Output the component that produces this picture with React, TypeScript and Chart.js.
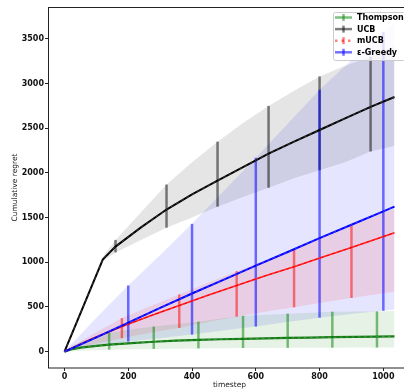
import React, { useEffect, useRef } from 'react';
import { Chart, registerables } from 'chart.js';

Chart.register(...registerables);

// ---- data ----
const thompsonX = [0, 20, 50, 100, 140, 210, 280, 350, 420, 490, 560, 630, 700, 770, 840, 910, 980, 1035];
const thompsonMean = [0, 25, 45, 65, 78, 95, 110, 122, 132, 138, 143, 148, 153, 157, 161, 164, 167, 170];
const thompsonLo = [0, 5, 10, 16, 22, 26, 30, 33, 35, 38, 40, 41, 42, 43, 44, 45, 45, 45];
const thompsonHi = [0, 60, 110, 170, 212, 250, 280, 310, 335, 370, 400, 413, 425, 436, 447, 449, 450, 455];
const thompsonBarX = [140, 280, 420, 560, 700, 840, 980];

const ucbX = [0, 120, 160, 240, 320, 400, 480, 560, 640, 720, 800, 880, 960, 1035];
const ucbMean = [0, 1030, 1175, 1390, 1590, 1760, 1913, 2065, 2215, 2350, 2480, 2610, 2740, 2850];
const ucbLo = [0, 1015, 1110, 1250, 1387, 1500, 1622, 1730, 1834, 1940, 2030, 2120, 2240, 2300];
const ucbHi = [0, 1060, 1250, 1560, 1870, 2120, 2350, 2560, 2750, 2920, 3080, 3200, 3300, 3420];
const ucbBarX = [160, 320, 480, 640, 800, 960];

const mucbX = [0, 90, 180, 270, 360, 450, 540, 630, 720, 810, 900, 1035];
const mucbMean = [0, 150, 280, 400, 515, 630, 740, 850, 950, 1060, 1165, 1331];
const mucbLo = [0, 80, 150, 210, 265, 330, 390, 445, 495, 550, 600, 670];
const mucbHi = [0, 200, 375, 510, 640, 770, 900, 1020, 1140, 1275, 1410, 1600];
const mucbBarX = [180, 360, 540, 720, 900];

const epsX = [0, 100, 200, 300, 400, 500, 600, 700, 800, 900, 1000, 1035];
const epsMean = [0, 160, 325, 490, 650, 805, 962, 1115, 1270, 1420, 1570, 1622];
const epsLo = [0, 60, 112, 150, 190, 235, 280, 330, 380, 420, 458, 470];
const epsHi = [0, 380, 740, 1080, 1430, 1800, 2170, 2550, 2930, 3260, 3580, 3673];
const epsBarX = [200, 400, 600, 800, 1000];

const seriesLabels = ['Thompson', 'UCB', 'mUCB', 'ε-Greedy'];
const xTicks = [0, 200, 400, 600, 800, 1000];
const yTicks = [0, 500, 1000, 1500, 2000, 2500, 3000, 3500];

type Series = {
  label: string;
  xs: number[];
  mean: number[];
  lo: number[];
  hi: number[];
  barX: number[];
  line: string;
  bar: string;
  band: string;
  dashHandle: boolean;
  lineWidth: number;
};

const series: Series[] = [
  { label: seriesLabels[0], xs: thompsonX, mean: thompsonMean, lo: thompsonLo, hi: thompsonHi, barX: thompsonBarX,
    line: '#107a10', bar: 'rgba(0,128,0,0.5)', band: 'rgba(0,128,0,0.1)', dashHandle: false, lineWidth: 2.2 },
  { label: seriesLabels[1], xs: ucbX, mean: ucbMean, lo: ucbLo, hi: ucbHi, barX: ucbBarX,
    line: '#000000', bar: 'rgba(0,0,0,0.5)', band: 'rgba(0,0,0,0.1)', dashHandle: false, lineWidth: 2 },
  { label: seriesLabels[2], xs: mucbX, mean: mucbMean, lo: mucbLo, hi: mucbHi, barX: mucbBarX,
    line: '#ff0000', bar: 'rgba(255,0,0,0.5)', band: 'rgba(255,0,0,0.1)', dashHandle: true, lineWidth: 1.6 },
  { label: seriesLabels[3], xs: epsX, mean: epsMean, lo: epsLo, hi: epsHi, barX: epsBarX,
    line: '#0000ff', bar: 'rgba(0,0,255,0.55)', band: 'rgba(0,0,255,0.1)', dashHandle: false, lineWidth: 2 },
];

const errorBarsPlugin = {
  id: 'errorBarsAndFrame',
  beforeDatasetsDraw(chart: any) {
    const { ctx, scales } = chart;
    const xs = scales.x;
    const ys = scales.y;
    ctx.save();
    ctx.lineCap = 'butt';
    for (const s of series) {
      ctx.strokeStyle = s.bar;
      ctx.lineWidth = 2.5;
      for (const bx of s.barX) {
        const j = s.xs.indexOf(bx);
        if (j < 0) continue;
        const px = xs.getPixelForValue(bx);
        ctx.beginPath();
        ctx.moveTo(px, ys.getPixelForValue(s.lo[j]));
        ctx.lineTo(px, ys.getPixelForValue(s.hi[j]));
        ctx.stroke();
      }
    }
    ctx.restore();
  },
  afterDraw(chart: any) {
    const { ctx, chartArea } = chart;
    ctx.save();
    // frame (spines)
    ctx.strokeStyle = '#222';
    ctx.lineWidth = 1;
    ctx.strokeRect(chartArea.left + 0.5, chartArea.top + 0.5, chartArea.right - chartArea.left - 1, chartArea.bottom - chartArea.top - 0.5);

    // legend
    const lx = 333, ly = 12, lw = 72, lh = 48;
    ctx.beginPath();
    if ((ctx as any).roundRect) (ctx as any).roundRect(lx + 0.5, ly + 0.5, lw, lh, 2);
    else ctx.rect(lx + 0.5, ly + 0.5, lw, lh);
    ctx.fillStyle = 'rgba(255,255,255,0.8)';
    ctx.fill();
    ctx.strokeStyle = '#cccccc';
    ctx.lineWidth = 1;
    ctx.stroke();

    ctx.font = 'bold 8px "DejaVu Sans"';
    ctx.textBaseline = 'middle';
    ctx.textAlign = 'left';
    series.forEach((s, i) => {
      const cy = 17.5 + i * 11.6;
      ctx.strokeStyle = s.bar;
      ctx.lineWidth = 2.5;
      if (s.dashHandle) ctx.setLineDash([2.5, 4]);
      ctx.beginPath();
      ctx.moveTo(335, cy);
      ctx.lineTo(352, cy);
      ctx.stroke();
      ctx.setLineDash([]);
      ctx.beginPath();
      ctx.moveTo(343.5, cy - 3.5);
      ctx.lineTo(343.5, cy + 3.5);
      ctx.stroke();
      ctx.fillStyle = '#000';
      ctx.fillText(s.label, 357, cy + 0.5);
    });
    ctx.restore();
  },
};

export default function App() {
  const ref = useRef<HTMLCanvasElement | null>(null);

  useEffect(() => {
    if (!ref.current) return;
    const datasets: any[] = [];
    series.forEach((s, i) => {
      datasets.push({
        label: s.label + ' hi',
        data: s.xs.map((x, j) => ({ x, y: s.hi[j] })),
        borderColor: 'transparent',
        borderWidth: 1,
        pointRadius: 0,
        backgroundColor: s.band,
        fill: '+1',
        order: 100,
      });
      datasets.push({
        label: s.label + ' lo',
        data: s.xs.map((x, j) => ({ x, y: s.lo[j] })),
        borderColor: 'transparent',
        borderWidth: 1,
        pointRadius: 0,
        fill: false,
        order: 100,
      });
      datasets.push({
        label: s.label,
        data: s.xs.map((x, j) => ({ x, y: s.mean[j] })),
        borderColor: s.line,
        borderWidth: s.lineWidth,
        pointRadius: 0,
        fill: false,
        order: 4 - i,
      });
      datasets.push({
        label: s.label + ' texture',
        data: s.xs.map((x, j) => ({ x, y: s.mean[j] })),
        borderColor: 'rgba(255,255,255,0.28)',
        borderWidth: 0.8,
        borderDash: [3, 3],
        pointRadius: 0,
        fill: false,
        order: 4 - i - 0.1,
      });
    });

    const chart = new Chart(ref.current, {
      type: 'line',
      data: { datasets },
      options: {
        animation: false,
        responsive: false,
        devicePixelRatio: 1,
        layout: { padding: { top: 7, left: 0, right: 1, bottom: 0 } },
        plugins: {
          legend: { display: false },
          tooltip: { enabled: false },
          filler: { drawTime: 'beforeDatasetsDraw' },
        } as any,
        scales: {
          x: {
            type: 'linear',
            min: -51.75,
            max: 1086.75,
            afterBuildTicks: (scale: any) => { scale.ticks = xTicks.map((v) => ({ value: v })); },
            afterFit: (scale: any) => {
              scale.height = 22;
              scale.paddingLeft = 0; scale.paddingRight = 0; scale.paddingTop = 0; scale.paddingBottom = 0;
            },
            grid: { display: true, drawOnChartArea: false, drawTicks: true, tickLength: 3, color: '#222' },
            border: { display: false },
            ticks: {
              padding: 1,
              color: '#111',
              font: { family: '"DejaVu Sans"', size: 8, weight: 'bold' },
              callback: (v: any) => String(v),
              maxRotation: 0,
            },
            title: {
              display: true,
              text: 'timestep',
              color: '#222',
              font: { family: '"DejaVu Sans"', size: 7.5 },
              padding: { top: 0, bottom: 0 },
            },
          },
          y: {
            type: 'linear',
            min: -183.6,
            max: 3857,
            afterBuildTicks: (scale: any) => { scale.ticks = yTicks.map((v) => ({ value: v })); },
            afterFit: (scale: any) => {
              scale.width = 48;
              scale.paddingLeft = 0; scale.paddingRight = 0; scale.paddingTop = 0; scale.paddingBottom = 0;
            },
            grid: { display: true, drawOnChartArea: false, drawTicks: true, tickLength: 3, color: '#222' },
            border: { display: false },
            ticks: {
              padding: 1,
              color: '#111',
              font: { family: '"DejaVu Sans"', size: 8, weight: 'bold' },
              callback: (v: any) => String(v),
            },
            title: {
              display: true,
              text: 'Cumulative regret',
              color: '#222',
              font: { family: '"DejaVu Sans"', size: 7.5 },
              padding: { top: 10.5, bottom: 0 },
            },
          },
        },
      },
      plugins: [errorBarsPlugin as any],
    });
    return () => chart.destroy();
  }, []);

  return (
    <div style={{ position: 'fixed', left: 0, top: 0, width: 404, height: 390, overflow: 'hidden', background: '#fff' }}>
      <canvas ref={ref} width={412} height={390} style={{ display: 'block', width: 412, height: 390 }} />
    </div>
  );
}
